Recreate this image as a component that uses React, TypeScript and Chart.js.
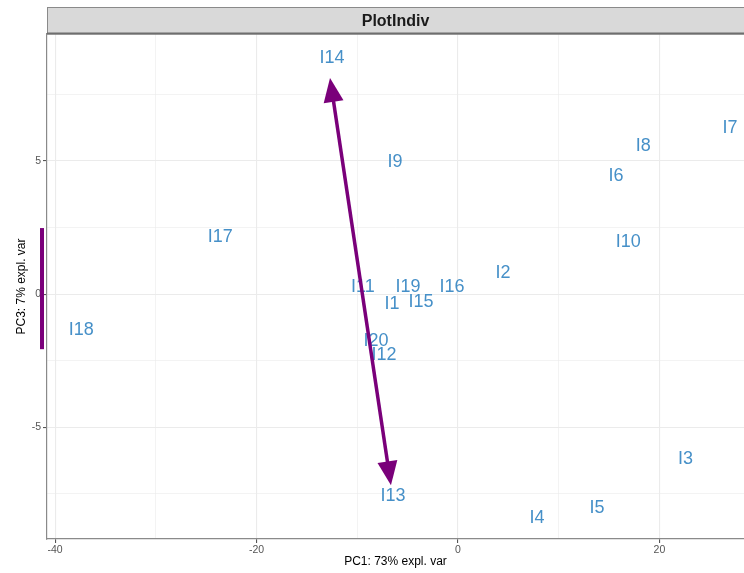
import { useEffect, useRef } from 'react';
import { Chart, registerables } from 'chart.js';
Chart.register(...registerables);

const sampleNames = ['I1','I2','I3','I4','I5','I6','I7','I8','I9','I10','I11','I12','I13','I14','I15','I16','I17','I18','I19','I20'];
const pc1 = [-6.55, 4.47, 22.6, 7.85, 13.8, 15.7, 27.0, 18.4, -6.26, 16.9, -9.43, -7.35, -6.45, -12.5, -3.67, -0.6, -23.6, -37.4, -4.97, -8.14];
const pc3 = [-0.38, 0.79, -6.2, -8.42, -8.05, 4.44, 6.24, 5.56, 4.96, 1.95, 0.26, -2.29, -7.59, 8.87, -0.30, 0.26, 2.14, -1.35, 0.26, -1.77];

const arrowX = [-6.65, -12.7];
const arrowY = [-7.18, 8.12];
const barRange = [2.48, -2.07];

const xTicks = [-40, -30, -20, -10, 0, 10, 20];
const yTicks = [-7.5, -5, -2.5, 0, 2.5, 5, 7.5];
const xMajor = [-40, -20, 0, 20];
const yMajor = [-5, 0, 5];

const title = 'PlotIndiv';
const xTitle = 'PC1: 73% expl. var';
const yTitle = 'PC3: 7% expl. var';

const LABEL_COLOR = '#4690c8';
const PURPLE = '#7a007a';
const FONT = '"Liberation Sans", Arial, sans-serif';

export default function App() {
  const ref = useRef<HTMLCanvasElement>(null);
  useEffect(() => {
    const canvas = ref.current!;
    const overlay = {
      id: 'overlay',
      afterDatasetsDraw(chart: any) {
        const ctx = chart.ctx;
        const xs = chart.scales.x, ys = chart.scales.y;
        const area = chart.chartArea;
        ctx.save();
        ctx.beginPath();
        ctx.rect(area.left, area.top, area.right - area.left, area.bottom - area.top);
        ctx.clip();
        ctx.fillStyle = LABEL_COLOR;
        ctx.font = `18px ${FONT}`;
        ctx.textAlign = 'center';
        ctx.textBaseline = 'middle';
        sampleNames.forEach((n, i) => {
          ctx.fillText(n, xs.getPixelForValue(pc1[i]), ys.getPixelForValue(pc3[i]));
        });
        const x1 = xs.getPixelForValue(arrowX[0]), y1 = ys.getPixelForValue(arrowY[0]);
        const x2 = xs.getPixelForValue(arrowX[1]), y2 = ys.getPixelForValue(arrowY[1]);
        const dx = x2 - x1, dy = y2 - y1;
        const len = Math.hypot(dx, dy);
        const ux = dx / len, uy = dy / len;
        const headLen = 24, headW = 10;
        ctx.strokeStyle = PURPLE;
        ctx.fillStyle = PURPLE;
        ctx.lineWidth = 3.5;
        ctx.beginPath();
        ctx.moveTo(x1 + ux * headLen * 0.8, y1 + uy * headLen * 0.8);
        ctx.lineTo(x2 - ux * headLen * 0.8, y2 - uy * headLen * 0.8);
        ctx.stroke();
        const head = (tx: number, ty: number, dirx: number, diry: number) => {
          const bx = tx - dirx * headLen, by = ty - diry * headLen;
          ctx.beginPath();
          ctx.moveTo(tx, ty);
          ctx.lineTo(bx - diry * headW, by + dirx * headW);
          ctx.lineTo(bx + diry * headW, by - dirx * headW);
          ctx.closePath();
          ctx.fill();
        };
        head(x2, y2, ux, uy);
        head(x1, y1, -ux, -uy);
        ctx.restore();
      },
      afterDraw(chart: any) {
        const ctx = chart.ctx;
        const ys = chart.scales.y;
        const area = chart.chartArea;
        ctx.save();
        ctx.fillStyle = '#d9d9d9';
        ctx.fillRect(area.left, 7.5, chart.width - area.left, area.top - 7.5);
        ctx.strokeStyle = '#8a8a8a';
        ctx.lineWidth = 1;
        ctx.strokeRect(area.left + 0.5, 7.5, chart.width - area.left + 2, area.top - 7.5);
        ctx.strokeStyle = '#6e6e6e';
        ctx.lineWidth = 2;
        ctx.beginPath();
        ctx.moveTo(area.left, area.top - 0.5);
        ctx.lineTo(chart.width, area.top - 0.5);
        ctx.stroke();
        ctx.fillStyle = '#1a1a1a';
        ctx.font = `bold 16px ${FONT}`;
        ctx.textAlign = 'center';
        ctx.textBaseline = 'middle';
        ctx.fillText(title, (area.left + area.right) / 2, (8 + area.top) / 2 + 1);
        ctx.font = `12px ${FONT}`;
        ctx.fillStyle = '#000';
        ctx.fillText(xTitle, (area.left + area.right) / 2, 562);
        ctx.save();
        ctx.translate(22, (area.top + area.bottom) / 2);
        ctx.rotate(-Math.PI / 2);
        ctx.fillText(yTitle, 0, 0);
        ctx.restore();
        ctx.fillStyle = PURPLE;
        const t = ys.getPixelForValue(barRange[0]), b = ys.getPixelForValue(barRange[1]);
        ctx.fillRect(40, t, 4, b - t);
        ctx.restore();
      },
    };
    const chart = new Chart(canvas, {
      type: 'scatter',
      data: {
        datasets: [{
          data: pc1.map((x, i) => ({ x, y: pc3[i] })),
          pointRadius: 0,
          pointHoverRadius: 0,
        }],
      },
      options: {
        animation: false,
        responsive: false,
        events: [],
        layout: { padding: { top: 34, right: 0, left: 0, bottom: 0 } },
        plugins: { legend: { display: false }, tooltip: { enabled: false } },
        scales: {
          x: {
            type: 'linear',
            min: -40.8,
            max: 28.4,
            afterBuildTicks: (s: any) => { s.ticks = xTicks.map((v) => ({ value: v })); },
            afterFit: (s: any) => { s.height = 34; },
            ticks: {
              autoSkip: false,
              maxRotation: 0,
              padding: 1,
              color: '#555555',
              font: { family: FONT, size: 10.5 },
              callback: (v: any) => (xMajor.includes(v) ? String(v) : ''),
            },
            grid: {
              color: '#ebebeb',
              lineWidth: (c: any) => (c.tick && xMajor.includes(c.tick.value) ? 1.1 : 0.6),
              tickLength: 4,
              tickColor: (c: any) => (c.tick && xMajor.includes(c.tick.value) ? '#555555' : 'rgba(0,0,0,0)'),
            },
            border: { display: true, color: '#8a8a8a', width: 1.2 },
          },
          y: {
            type: 'linear',
            min: -9.2,
            max: 9.77,
            afterBuildTicks: (s: any) => { s.ticks = yTicks.map((v) => ({ value: v })); },
            afterFit: (s: any) => { s.width = 47; },
            ticks: {
              autoSkip: false,
              padding: 2,
              color: '#555555',
              font: { family: FONT, size: 10.5 },
              callback: (v: any) => (yMajor.includes(v) ? String(v) : ''),
            },
            grid: {
              color: '#ebebeb',
              lineWidth: (c: any) => (c.tick && yMajor.includes(c.tick.value) ? 1.1 : 0.6),
              tickLength: 4,
              tickColor: (c: any) => (c.tick && yMajor.includes(c.tick.value) ? '#555555' : 'rgba(0,0,0,0)'),
            },
            border: { display: true, color: '#8a8a8a', width: 1.2 },
          },
        },
      },
      plugins: [overlay],
    });
    return () => chart.destroy();
  }, []);
  return (
    <div style={{ position: 'fixed', left: 0, top: 0, width: 744, height: 573, background: '#fff' }}>
      <canvas ref={ref} width={744} height={573} style={{ display: 'block' }} />
    </div>
  );
}
